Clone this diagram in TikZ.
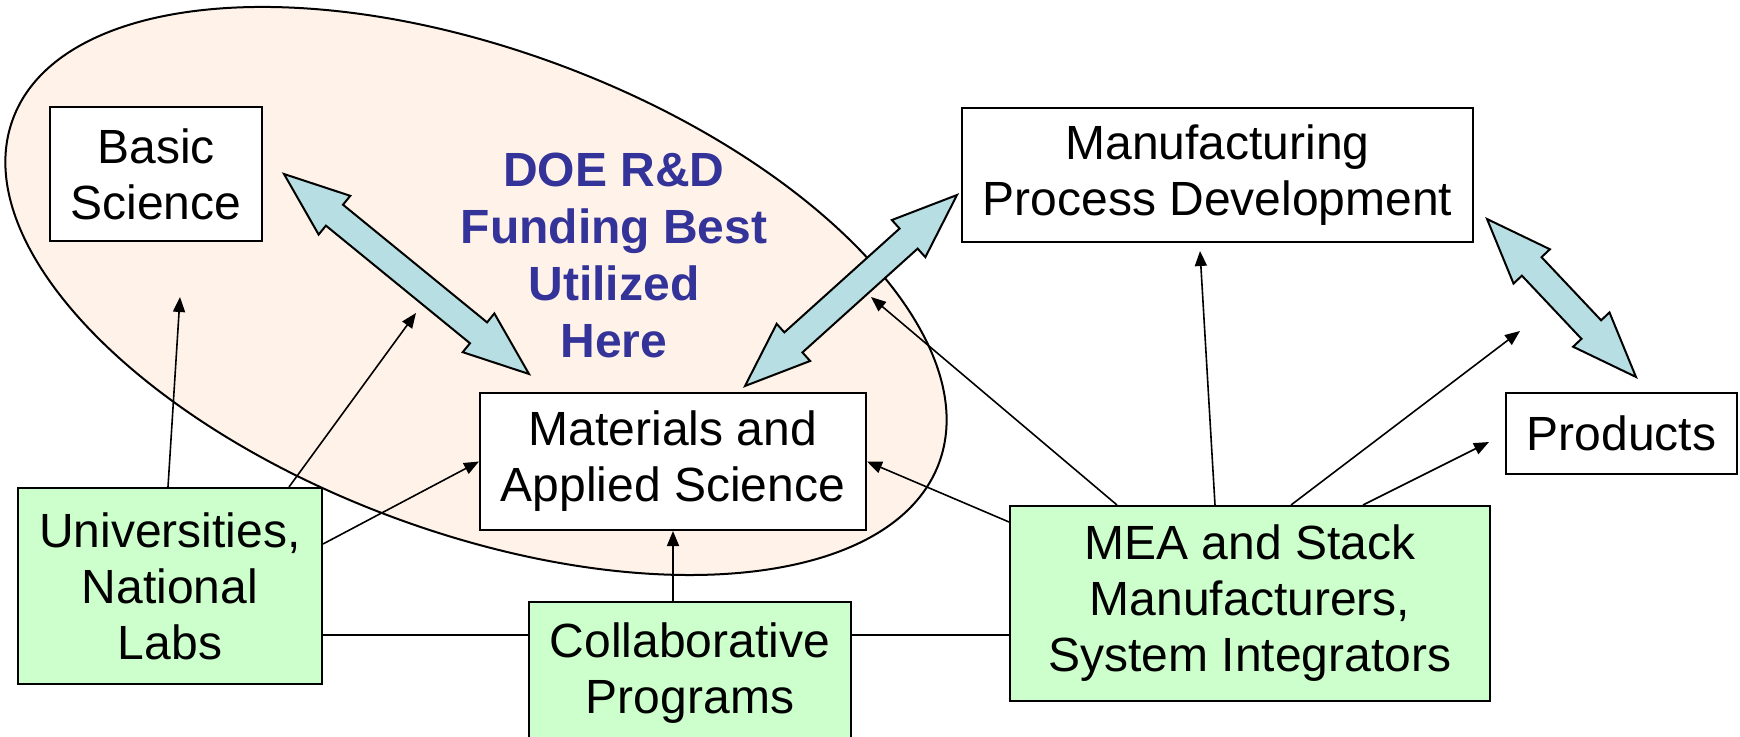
\documentclass[tikz,border=0pt]{standalone}
\usepackage{fontspec}
\setmainfont{Liberation Sans}
\usetikzlibrary{arrows.meta, shapes.arrows, calc, positioning}
\definecolor{boxgreen}{HTML}{CCFFCC}
\definecolor{ovalpeach}{HTML}{FFF3E9}
\definecolor{arrowblue}{HTML}{B7DFE3}
\definecolor{doeblue}{HTML}{333399}
\tikzstyle{whitebox}=[rectangle, draw, fill=white, line width=1pt, align=center, inner sep=0pt]
\tikzstyle{greenbox}=[whitebox, fill=boxgreen]
\tikzstyle{thinarrow}=[line width=0.8pt, -{Triangle[length=7.5pt,width=6pt]}]
\tikzstyle{fatarrow}=[double arrow, draw, fill=arrowblue, line width=1pt, inner sep=0pt, text height=6.25pt, text depth=6.25pt, text width=0pt, double arrow head extend=5.75pt, double arrow tip angle=42]
\newcommand{\twoway}[3]{\path let \p1=($(#3)-(#2)$) in node[fatarrow, minimum height={veclen(\x1,\y1)}, rotate={atan2(\y1,\x1)}] (#1) at ($(#2)!0.5!(#3)$) {};}

\begin{document}
\begin{tikzpicture}[x=0.5pt, y=-0.5pt, font=\fontsize{24}{28}\selectfont]
            \useasboundingbox (0,0) rectangle (1740,737);
            \coordinate (oval) at (476,291);
            \draw[fill=ovalpeach, line width=1pt, rotate around={-20.4:(oval)}] (oval) ellipse [x radius=247pt, y radius=120.5pt];
            \node[text=doeblue, font=\fontsize{24}{28.5}\selectfont\bfseries, align=center] (doe) at (614,255) {DOE R\&D\\Funding Best\\Utilized\\Here};
            \node[whitebox, minimum width=106pt, minimum height=67pt] (basic) at (156,174) {Basic\\Science};
            \node[whitebox, minimum width=255.5pt, minimum height=67pt] (manuf) at (1217.5,175) {Manufacturing\\Process Development};
            \node[whitebox, minimum width=115.5pt, minimum height=40.5pt] (prod) at (1621.5,433.5) {Products};
            \node[whitebox, minimum width=193pt, minimum height=68.5pt] (mat) at (673,461.5) {Materials and\\Applied Science};
            \node[greenbox, minimum width=152pt, minimum height=98pt] (univ) at (170,586) {Universities,\\National\\Labs};
            \node[greenbox, minimum width=161pt, minimum height=71.5pt] (collab) at (690,673.5) {Collaborative\\Programs};
            \node[greenbox, minimum width=240pt, minimum height=97.5pt] (mea) at (1250,603.5) {MEA and Stack\\Manufacturers,\\System Integrators};
            % free ends
            \coordinate (bs-in) at (180,297);
            \coordinate (bs-in2) at (416,313);
            \coordinate (mpd-in) at (871,297);
            \coordinate (mpd-in2) at (1200,251);
            \coordinate (pr-in) at (1520,331);
            \coordinate (pr-in2) at (1489,442);
            \coordinate (linkrow) at (0,635);
            \draw[thinarrow] ([xshift=-1pt]univ.north) -- (bs-in);
            \draw[thinarrow] ([xshift=59.5pt]univ.north) -- (bs-in2);
            \draw[thinarrow] ([yshift=21pt]univ.east) -- (mat.west);
            \draw[thinarrow] (collab.north -| mat.south) -- (mat.south);
            \draw[thinarrow] ([yshift=40.75pt]mea.west) -- (mat.east);
            \draw[thinarrow] ([xshift=-66.5pt]mea.north) -- (mpd-in);
            \draw[thinarrow] ([xshift=-17.5pt]mea.north) -- (mpd-in2);
            \draw[thinarrow] ([xshift=20.5pt]mea.north) -- (pr-in);
            \draw[thinarrow] ([xshift=56.5pt]mea.north) -- (pr-in2);
            \draw[line width=0.8pt] (univ.east |- linkrow) -- (collab.west |- linkrow);
            \draw[line width=0.8pt] (collab.east |- linkrow) -- (mea.west |- linkrow);
            % double arrows
            \coordinate (a1s) at (284,174);
            \coordinate (a1e) at (529,374);
            \coordinate (a2s) at (745,386);
            \coordinate (a2e) at (957,195);
            \coordinate (a3s) at (1487,219);
            \coordinate (a3e) at (1636,377);
            \twoway{bothA}{a1s}{a1e}
            \twoway{bothB}{a2s}{a2e}
            \twoway{bothC}{a3s}{a3e}
\end{tikzpicture}
\end{document}
